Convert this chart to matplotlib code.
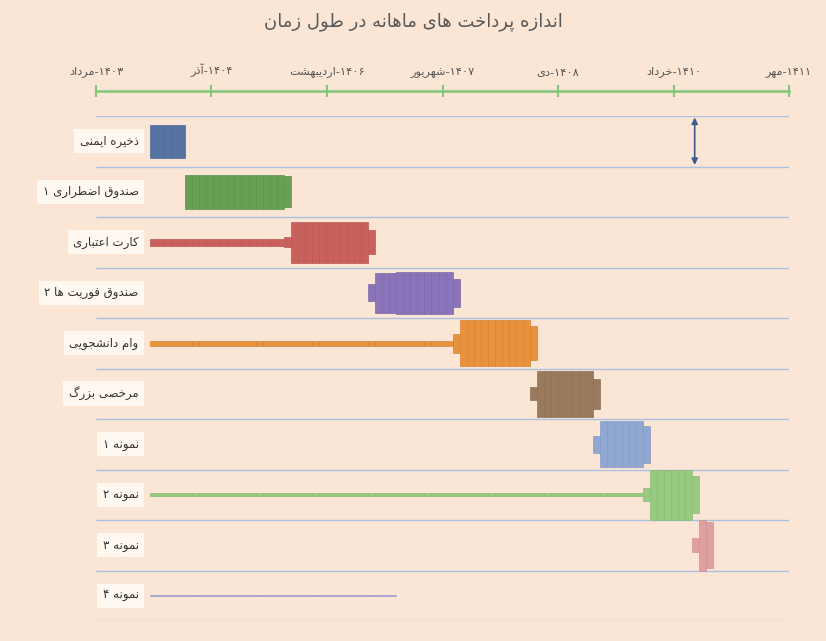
import numpy as np
import matplotlib.pyplot as plt
from matplotlib.colors import to_rgb

# --- data ---------------------------------------------------------------
title = 'اندازه پرداخت های ماهانه در طول زمان'
row_names = ['ذخیره ایمنی', 'صندوق اضطراری ۱', 'کارت اعتباری', 'صندوق فوریت ها ۲',
             'وام دانشجویی', 'مرخصی بزرگ', 'نمونه ۱', 'نمونه ۲', 'نمونه ۳', 'نمونه ۴']
tick_months = [-0.17, 16.24, 32.65, 49.07, 65.48, 81.89, 98.3]
tick_names = ['مرداد', 'آذر', 'اردیبهشت', 'شهریور', 'دی', 'خرداد', 'مهر']
tick_years = ['۱۴۰۳', '۱۴۰۴', '۱۴۰۶', '۱۴۰۷', '۱۴۰۸', '۱۴۱۰', '۱۴۱۱']

# first payment month (months after مرداد ۱۴۰۳) and monthly payments (row max = 10)
start_month = [8, 13, 8, 39, 8, 62, 71, 8, 85, 8]
payments = [
    [6.5] * 5,
    [6.7] * 14 + [6.1],
    [1.4] * 19 + [2.0] + [8.1] * 11 + [4.8],
    [3.4] + [7.9] * 3 + [8.3] * 8 + [5.5],
    [0.9] * 43 + [3.7] + [9.2] * 10 + [6.7],
    [2.5] + [9.2] * 8 + [5.9],
    [3.3] + [9.2] * 6 + [7.3],
    [0.5] * 70 + [2.5] + [10.0] * 6 + [7.3],
    [2.7, 10.0, 9.1],
    [0.2] * 35,
]
colors = ['#5572a3', '#67a052', '#c9605c', '#8a74b9', '#e9913d',
          '#9a7a5c', '#90a8d2', '#97cc80', '#e0a0a0', '#a8a8e0']
scale_month = 84.9

# --- simple persian shaping (matplotlib has no complex text layout) -----
FORMS = {
    'ا': (0xFE8D, 0xFE8E), 'آ': (0xFE81, 0xFE82), 'د': (0xFEA9, 0xFEAA),
    'ذ': (0xFEAB, 0xFEAC), 'ر': (0xFEAD, 0xFEAE), 'ز': (0xFEAF, 0xFEB0),
    'ژ': (0xFB8A, 0xFB8B), 'و': (0xFEED, 0xFEEE),
    'ب': (0xFE8F, 0xFE90, 0xFE91, 0xFE92), 'پ': (0xFB56, 0xFB57, 0xFB58, 0xFB59),
    'ت': (0xFE95, 0xFE96, 0xFE97, 0xFE98), 'ث': (0xFE99, 0xFE9A, 0xFE9B, 0xFE9C),
    'ج': (0xFE9D, 0xFE9E, 0xFE9F, 0xFEA0), 'چ': (0xFB7A, 0xFB7B, 0xFB7C, 0xFB7D),
    'ح': (0xFEA1, 0xFEA2, 0xFEA3, 0xFEA4), 'خ': (0xFEA5, 0xFEA6, 0xFEA7, 0xFEA8),
    'س': (0xFEB1, 0xFEB2, 0xFEB3, 0xFEB4), 'ش': (0xFEB5, 0xFEB6, 0xFEB7, 0xFEB8),
    'ص': (0xFEB9, 0xFEBA, 0xFEBB, 0xFEBC), 'ض': (0xFEBD, 0xFEBE, 0xFEBF, 0xFEC0),
    'ط': (0xFEC1, 0xFEC2, 0xFEC3, 0xFEC4), 'ظ': (0xFEC5, 0xFEC6, 0xFEC7, 0xFEC8),
    'ع': (0xFEC9, 0xFECA, 0xFECB, 0xFECC), 'غ': (0xFECD, 0xFECE, 0xFECF, 0xFED0),
    'ف': (0xFED1, 0xFED2, 0xFED3, 0xFED4), 'ق': (0xFED5, 0xFED6, 0xFED7, 0xFED8),
    'ک': (0xFB8E, 0xFB8F, 0xFB90, 0xFB91), 'گ': (0xFB92, 0xFB93, 0xFB94, 0xFB95),
    'ل': (0xFEDD, 0xFEDE, 0xFEDF, 0xFEE0), 'م': (0xFEE1, 0xFEE2, 0xFEE3, 0xFEE4),
    'ن': (0xFEE5, 0xFEE6, 0xFEE7, 0xFEE8), 'ه': (0xFEE9, 0xFEEA, 0xFEEB, 0xFEEC),
    'ی': (0xFBFC, 0xFBFD, 0xFBFE, 0xFBFF),
}


def shape_word(word):
    out = []
    for i, ch in enumerate(word):
        if ch not in FORMS:
            out.append(ch)
            continue
        f = FORMS[ch]
        prev = word[i - 1] if i > 0 else None
        nxt = word[i + 1] if i + 1 < len(word) else None
        join_prev = prev in FORMS and len(FORMS[prev]) == 4
        join_next = len(f) == 4 and nxt in FORMS
        if join_prev and join_next:
            out.append(chr(f[3]))
        elif join_prev:
            out.append(chr(f[1]))
        elif join_next:
            out.append(chr(f[2]))
        else:
            out.append(chr(f[0]))
    if any(c in FORMS for c in word):
        return ''.join(out[::-1])
    return ''.join(out)


def fa(text):
    # right-to-left: words in reverse order, each word shaped
    return ' '.join(shape_word(w) for w in text.split(' ')[::-1])


# --- plot ---------------------------------------------------------------
plt.rcParams['font.family'] = ['DejaVu Sans']
bg = '#fbe6d5'
fig = plt.figure(figsize=(8.26, 6.41), dpi=100, facecolor=bg)
ax = fig.add_axes([96 / 826, 1 - 621 / 641, (789 - 96) / 826, (621 - 116) / 641])
ax.set_facecolor(bg)
ax.set_xlim(tick_months[0], tick_months[-1])
ax.set_ylim(10, 0)

ax.hlines(np.arange(11), tick_months[0], tick_months[-1], color='#a9bfe3', lw=1, zorder=1)

for i, pay in enumerate(payments):
    pay = np.array(pay)
    months = start_month[i] + np.arange(len(pay))
    h = pay / 10
    edge = tuple(c * 0.92 for c in to_rgb(colors[i]))
    ax.bar(months, h, width=1, bottom=i + 0.5 - h / 2, color=colors[i],
           edgecolor=edge, linewidth=0.5, zorder=2)
    ax.text(5.9, i + 0.5, fa(row_names[i]), ha='right', va='center',
            fontsize=8.5, color='#333333', zorder=3,
            bbox=dict(fc='#fff8f0', ec='none', pad=4))

ax.annotate('', xy=(scale_month, 0.03), xytext=(scale_month, 0.97),
            arrowprops=dict(arrowstyle='<|-|>', color='#3c5b8c', lw=1.2,
                            mutation_scale=9, shrinkA=0, shrinkB=0))

for s in ['left', 'right', 'bottom']:
    ax.spines[s].set_visible(False)
ax.spines['top'].set_position(('outward', 18))
ax.spines['top'].set_color('#80c878')
ax.spines['top'].set_linewidth(1.8)
ax.set_yticks([])
ax.xaxis.tick_top()
ax.set_xticks(tick_months)
ax.set_xticklabels([shape_word(n) + '-' + y for n, y in zip(tick_names, tick_years)],
                   fontsize=8.2, color='#555555')
ax.tick_params(axis='x', direction='inout', length=8, width=1.5,
               color='#80c878', pad=6)

fig.text(0.5, 1 - 22 / 641, fa(title), ha='center', va='center',
         fontsize=13, color='#595959')

fig.savefig('out.png', dpi=100, facecolor=bg)
